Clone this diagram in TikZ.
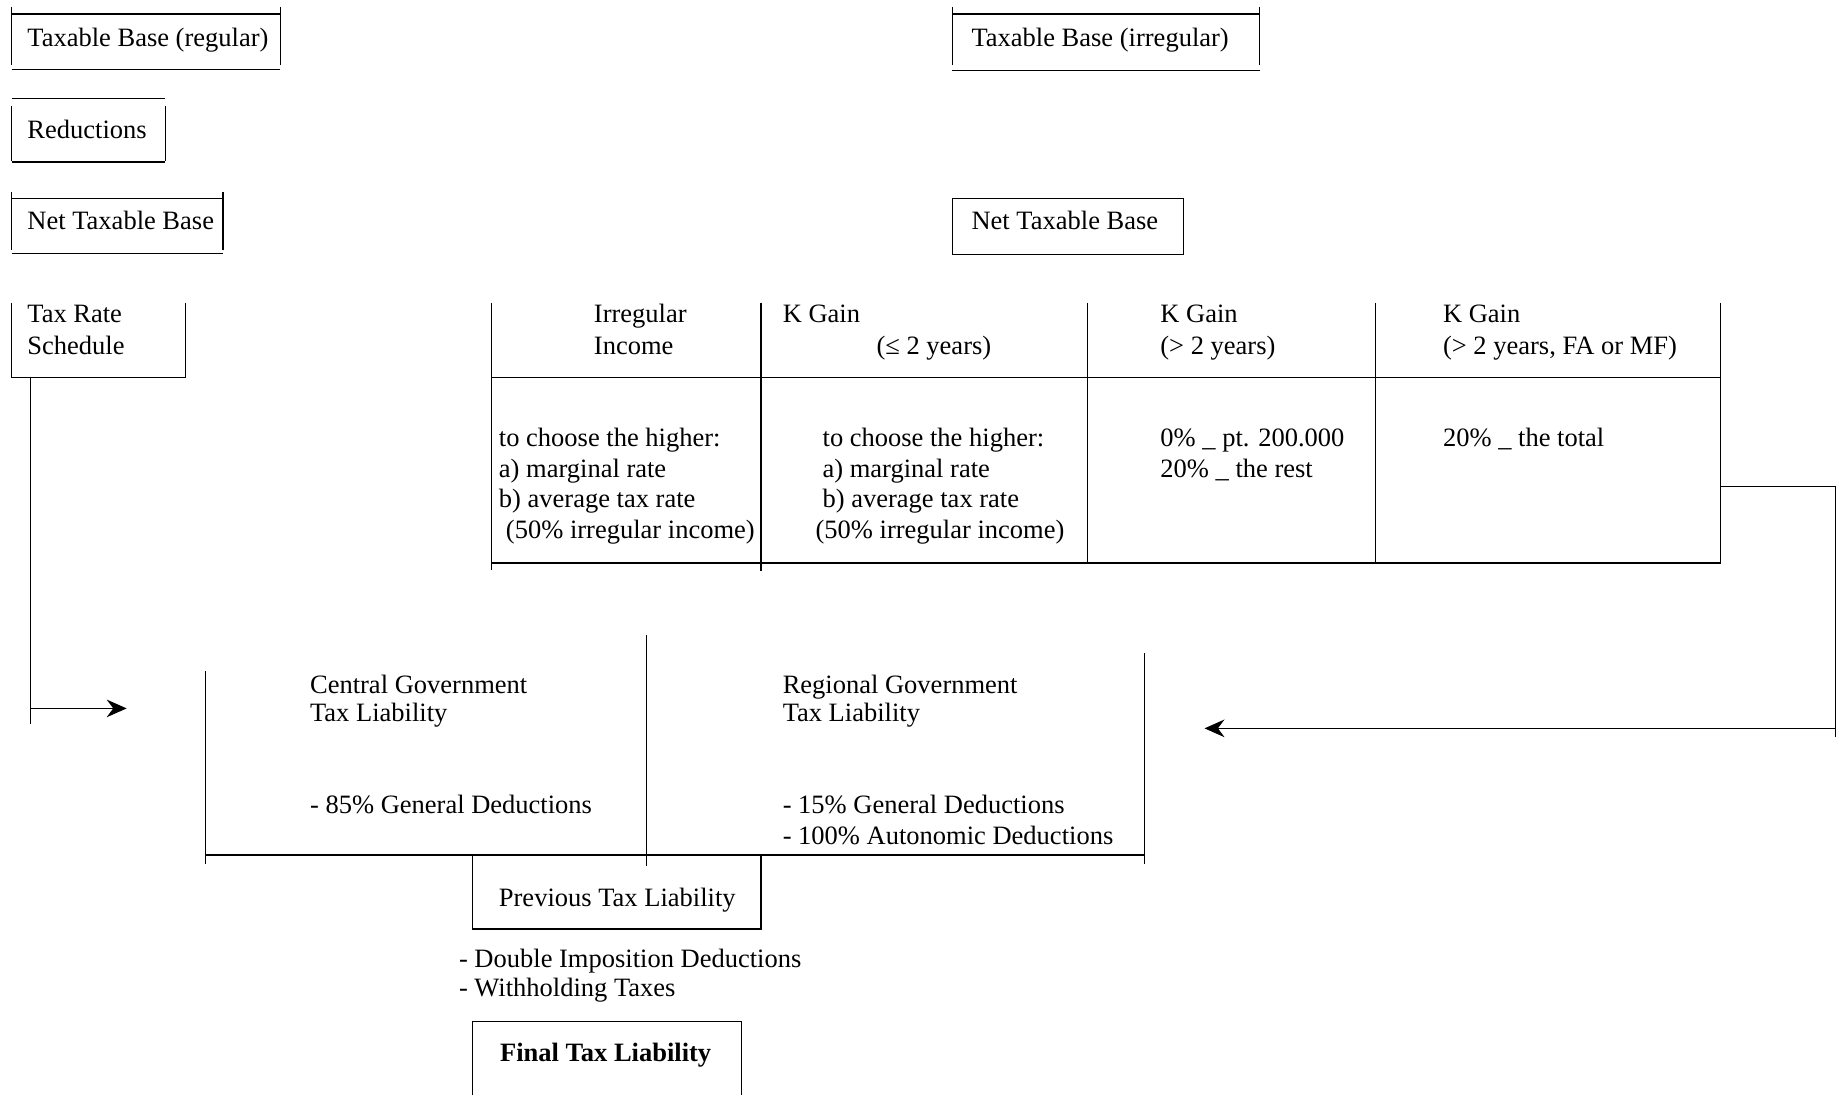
\documentclass[tikz,border=0pt]{standalone}
\usepackage{fontspec}
\setmainfont{Liberation Serif}
\usetikzlibrary{arrows.meta}
\begin{document}
\begin{tikzpicture}[x=0.5pt,y=-0.5pt,
  ln/.style={line width=0.6pt},
  txt/.style={anchor=base west,inner sep=0pt,font=\fontsize{11.3}{13.2}\selectfont},
  arr/.style={line width=0.6pt,-{Stealth[length=8.5pt,width=7.5pt,inset=2.8pt]}}]
\useasboundingbox (0,0) rectangle (1568,934);

% ---- Taxable Base (regular)
\node[txt] (tbr) at (23,40) {Taxable Base (regular)};
\draw[ln] (10,12) -- (239,12);
\draw[ln] (10,6) -- (10,55);
\draw[ln] (239,6) -- (239,55);
\draw[ln] (10,59) -- (239,59);

% ---- Reductions
\node[txt] (red) at (23,118) {Reductions};
\draw[ln] (10,84) -- (141,84);
\draw[ln] (10,90) -- (10,137);
\draw[ln] (141,90) -- (141,137);
\draw[ln] (10,138) -- (141,138);

% ---- Net Taxable Base (left)
\node[txt] (ntb) at (23,196) {Net Taxable Base};
\draw[ln] (10,169) -- (190,169);
\draw[ln] (10,164) -- (10,213);
\draw[ln] (190,164) -- (190,213);
\draw[ln] (10,216) -- (190,216);

% ---- Tax Rate Schedule
\node[txt] (trs1) at (23,275) {Tax Rate};
\node[txt] (trs2) at (23,302) {Schedule};
\draw[ln] (10,258) -- (10,322);
\draw[ln] (158,258) -- (158,322);
\draw[ln] (10,322) -- (158,322);

% ---- Taxable Base (irregular)
\node[txt] (tbi) at (828,40) {Taxable Base (irregular)};
\draw[ln] (812,12) -- (1074,12);
\draw[ln] (812,6) -- (812,55);
\draw[ln] (1074,6) -- (1074,55);
\draw[ln] (812,60) -- (1074,60);

% ---- Net Taxable Base (right)
\node[txt] (ntbi) at (828,196) {Net Taxable Base};
\draw[ln] (812,169) rectangle (1009,217);

% ---- Table
\draw[ln] (419,258) -- (419,486);
\draw[ln] (649,258) -- (649,487);
\draw[ln] (927,258) -- (927,480);
\draw[ln] (1173,258) -- (1173,480);
\draw[ln] (1467,258) -- (1467,480);
\draw[ln] (419,322) -- (1467,322);
\draw[ln] (419,480) -- (1467,480);

\node[txt] (h1a) at (506,275) {Irregular};
\node[txt] (h1b) at (506,302) {Income};
\node[txt] (h2a) at (667,275) {K Gain};
\node[txt] (h2b) at (747,302) {(≤ 2 years)};
\node[txt] (h3a) at (989,275) {K Gain};
\node[txt] (h3b) at (989,302) {(> 2 years)};
\node[txt] (h4a) at (1230,275) {K Gain};
\node[txt] (h4b) at (1230,302) {(> 2 years, FA or MF)};

\node[txt] (c1a) at (425,381) {to choose the higher:};
\node[txt] (c1b) at (425,407) {a) marginal rate};
\node[txt] (c1c) at (425,433) {b) average tax rate};
\node[txt] (c1d) at (431,459) {(50\% irregular income)};
\node[txt] (c2a) at (701,381) {to choose the higher:};
\node[txt] (c2b) at (701,407) {a) marginal rate};
\node[txt] (c2c) at (701,433) {b) average tax rate};
\node[txt] (c2d) at (695,459) {(50\% irregular income)};
\node[txt] (c3a) at (989,381) {0\% \_ pt. 200.000};
\node[txt] (c3b) at (989,407) {20\% \_ the rest};
\node[txt] (c4a) at (1230,381) {20\% \_ the total};

% ---- Connectors
\coordinate (trsOut) at (26,322);
\coordinate (trsEnd) at (26,617);
\coordinate (trsArrS) at (26,604);
\coordinate (trsArrE) at (108,604);
\draw[ln] (trsOut) -- (trsEnd);
\draw[arr] (trsArrS) -- (trsArrE);

\coordinate (tabOut) at (1467,415);
\coordinate (tabCorner) at (1565,415);
\coordinate (tabEnd) at (1565,628);
\coordinate (tabArrS) at (1565,621);
\coordinate (tabArrE) at (1027,621);
\draw[ln] (tabOut) -- (tabCorner) -- (tabEnd);
\draw[arr] (tabArrS) -- (tabArrE);

% ---- Central / Regional
\draw[ln] (175,572) -- (175,737);
\draw[ln] (551,541) -- (551,738);
\draw[ln] (976,557) -- (976,737);
\draw[ln] (175,729) -- (976,729);

\node[txt] (cg1) at (264,591) {Central Government};
\node[txt] (cg2) at (264,615) {Tax Liability};
\node[txt] (cg3) at (264,694) {- 85\% General Deductions};
\node[txt] (rg1) at (667,591) {Regional Government};
\node[txt] (rg2) at (667,615) {Tax Liability};
\node[txt] (rg3) at (667,694) {- 15\% General Deductions};
\node[txt] (rg4) at (667,720) {- 100\% Autonomic Deductions};

% ---- Previous Tax Liability
\draw[ln] (403,729) -- (403,793);
\draw[ln] (649,729) -- (649,793);
\draw[ln] (403,792) -- (649,792);
\node[txt] (ptl) at (425,773) {Previous Tax Liability};

\node[txt] (dd1) at (391,825) {- Double Imposition Deductions};
\node[txt] (dd2) at (391,850) {- Withholding Taxes};

% ---- Final Tax Liability
\draw[ln] (403,934) -- (403,871) -- (632,871) -- (632,934);
\node[txt,font=\fontsize{11.3}{13.2}\selectfont\bfseries] (ftl) at (426,905) {Final Tax Liability};
\end{tikzpicture}
\end{document}
